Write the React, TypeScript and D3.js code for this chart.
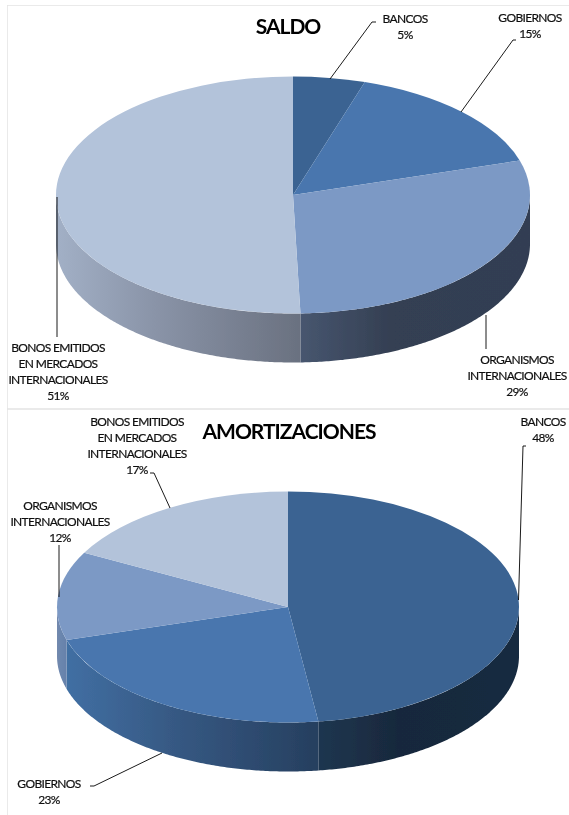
import React from 'react';
import * as d3 from 'd3';

const categories = ['BANCOS', 'GOBIERNOS', 'ORGANISMOS INTERNACIONALES', 'BONOS EMITIDOS EN MERCADOS INTERNACIONALES'];
// read off the slice boundaries, so not the rounded percentages of the labels
const saldoValues = [4.9, 15.4, 29.2, 50.5];
const amortValues = [47.9, 22.5, 12.4, 17.2];

const width = 569;
const height = 815;
const topColors = ['#3a6392', '#4876ae', '#7c99c5', '#b3c3da'];

type Wall = [string, string, string];
type Label = { lines: string[]; x: number; y: number; leader: [number, number][] };

const saldoWalls: Wall[] = [
    ['#26405f', '#26405f', '#26405f'],
    ['#2c4a70', '#2c4a70', '#2c4a70'],
    ['#47566f', '#343f52', '#323e52'],
    ['#a2b0c6', '#8a94a8', '#6a7180'],
];
const amortWalls: Wall[] = [
    ['#1f3650', '#18283c', '#182a40'],
    ['#416fa3', '#375a85', '#263f5f'],
    ['#7389ad', '#6b86ae', '#6581aa'],
    ['#8a9bb5', '#8a9bb5', '#8a9bb5'],
];

const saldoLabels: Label[] = [
    { lines: ['BANCOS', '5%'], x: 405, y: 18, leader: [[330, 79], [372, 22], [376, 22]] },
    { lines: ['GOBIERNOS', '15%'], x: 530, y: 17, leader: [[461, 112], [513, 40], [516, 40]] },
    { lines: ['ORGANISMOS', 'INTERNACIONALES', '29%'], x: 517, y: 359, leader: [[486, 315], [486, 349]] },
    { lines: ['BONOS EMITIDOS', 'EN MERCADOS', 'INTERNACIONALES', '51%'], x: 58, y: 347, leader: [[57, 197], [57, 337]] },
];
const amortLabels: Label[] = [
    { lines: ['BANCOS', '48%'], x: 543, y: 421, leader: [[518.5, 600], [523, 446], [526, 446]] },
    { lines: ['GOBIERNOS', '23%'], x: 49, y: 783, leader: [[162, 753], [94, 786], [90, 786]] },
    { lines: ['ORGANISMOS', 'INTERNACIONALES', '12%'], x: 60, y: 505, leader: [[59, 597], [59, 545]] },
    { lines: ['BONOS EMITIDOS', 'EN MERCADOS', 'INTERNACIONALES', '17%'], x: 137, y: 421, leader: [[170, 508], [154, 473], [150, 473]] },
];

const line = d3.line();

type PieProps = {
    id: string;
    title: string;
    titleX: number;
    titleY: number;
    values: number[];
    cx: number;
    cy: number;
    rx: number;
    ry: number;
    depth: number;
    walls: Wall[];
    labels: Label[];
};

const Pie3D = ({ id, title, titleX, titleY, values, cx, cy, rx, ry, depth, walls, labels }: PieProps) => {
    const slices = d3.pie<number>().sort(null)(values);
    const arc = d3.arc<d3.PieArcDatum<number>>().innerRadius(0).outerRadius(rx);
    const x = d3.scaleLinear().domain([-1, 1]).range([cx - rx, cx + rx]);
    const y = d3.scaleLinear().domain([-1, 1]).range([cy + ry, cy - ry]);

    // front wall, only the part of each slice facing the viewer
    const wall = d3.area<number>()
        .x(a => x(Math.sin(a)))
        .y0(a => y(Math.cos(a)))
        .y1(a => y(Math.cos(a)) + depth);

    return (
        <g>
            <defs>
                {walls.map((w, i) => (
                    <linearGradient key={i} id={`${id}-wall-${i}`} x1="0" x2="1" y1="0" y2="0">
                        <stop offset="0" stopColor={w[0]} />
                        <stop offset="0.4" stopColor={w[1]} />
                        <stop offset="1" stopColor={w[2]} />
                    </linearGradient>
                ))}
            </defs>
            {slices.map((s, i) => {
                const a0 = Math.max(s.startAngle, Math.PI / 2);
                const a1 = Math.min(s.endAngle, (Math.PI * 3) / 2);
                if (a1 <= a0) return null;
                const angles = d3.range(a0, a1, 0.01).concat(a1);
                return <path key={i} d={wall(angles) ?? ''} fill={`url(#${id}-wall-${i})`} />;
            })}
            <g transform={`translate(${cx},${cy}) scale(1,${ry / rx})`}>
                {slices.map((s, i) => (
                    <path key={i} d={arc(s) ?? ''} fill={topColors[i]} />
                ))}
            </g>
            <text x={titleX} y={titleY} textAnchor="middle" dominantBaseline="central"
                fontFamily="Lato" fontWeight="bold" fontSize="21" letterSpacing="-1" fill="#000">{title}</text>
            {labels.map((l, i) => (
                <g key={i}>
                    <path d={line(l.leader) ?? ''} fill="none" stroke="#000" strokeWidth="0.9" />
                    {l.lines.map((t, j) => (
                        <text key={j} x={l.x} y={l.y + j * 16.2} textAnchor="middle" dominantBaseline="central"
                            fontFamily="Lato" fontSize="12" letterSpacing="-0.65" fill="#111"
                            stroke="#111" strokeWidth="0.2">{t}</text>
                    ))}
                </g>
            ))}
        </g>
    );
};

export default function App() {
    return (
        <svg width={width} height={height} style={{ position: 'absolute', left: 0, top: 0 }}>
            <defs>
                <filter id="soft" x="0" y="0" width="100%" height="100%">
                    <feGaussianBlur stdDeviation="0.35" />
                </filter>
            </defs>
            <rect width={width} height={height} fill="#fff" />
            <g filter="url(#soft)">
                <path d="M7,5H569M7,5V815M7,409H569" fill="none" stroke="#e4e4e4" strokeWidth="1.5" />
                <Pie3D id="saldo" title="SALDO" titleX={288} titleY={25.5} values={saldoValues}
                    cx={293} cy={195} rx={237} ry={118.5} depth={49} walls={saldoWalls} labels={saldoLabels} />
                <Pie3D id="amort" title="AMORTIZACIONES" titleX={289} titleY={430} values={amortValues}
                    cx={288} cy={607} rx={231} ry={115.5} depth={49} walls={amortWalls} labels={amortLabels} />
            </g>
        </svg>
    );
}
